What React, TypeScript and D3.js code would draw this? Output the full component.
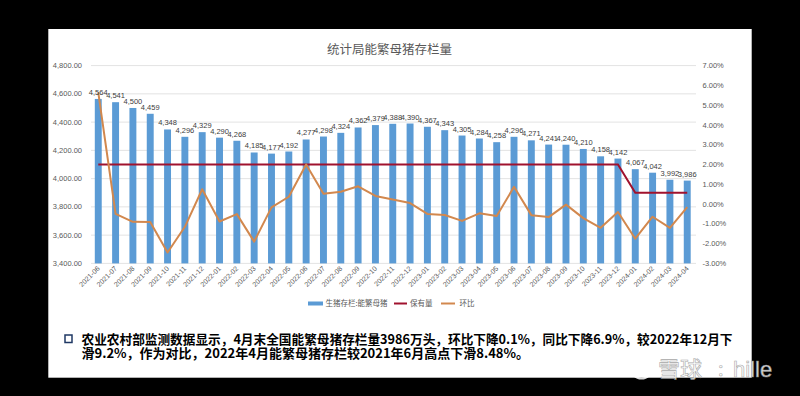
import React from "react";
import * as d3 from "d3";

const categories = [
  "2021-06","2021-07","2021-08","2021-09","2021-10","2021-11","2021-12",
  "2022-01","2022-02","2022-03","2022-04","2022-05","2022-06","2022-07","2022-08","2022-09","2022-10","2022-11","2022-12",
  "2023-01","2023-02","2023-03","2023-04","2023-05","2023-06","2023-07","2023-08","2023-09","2023-10","2023-11","2023-12",
  "2024-01","2024-02","2024-03","2024-04",
];
const inventory = [
  4564,4541,4500,4459,4348,4296,4329,
  4290,4268,4185,4177,4192,4277,4298,4324,4362,4379,4388,4390,
  4367,4343,4305,4284,4258,4296,4271,4241,4240,4210,4158,4142,
  4067,4042,3992,3986,
];
const holding = [
  4100,4100,4100,4100,4100,4100,4100,
  4100,4100,4100,4100,4100,4100,4100,4100,4100,4100,4100,4100,
  4100,4100,4100,4100,4100,4100,4100,4100,4100,4100,4100,4100,
  3900,3900,3900,3900,
];
const momPct = [
  5.65,-0.5,-0.9,-0.91,-2.45,-1.15,0.75,
  -0.88,-0.51,-1.9,-0.17,0.37,2.0,0.52,0.62,0.9,0.41,0.23,0.05,
  -0.5,-0.55,-0.85,-0.47,-0.6,0.87,-0.56,-0.66,-0.03,-0.71,-1.2,-0.4,
  -1.75,-0.64,-1.2,-0.15,
];
const leftTicks = [3400,3600,3800,4000,4200,4400,4600,4800];
const rightTicks = [-3,-2,-1,0,1,2,3,4,5,6,7];
const title = "统计局能繁母猪存栏量";
const legendLabels = ["生猪存栏:能繁母猪", "保有量", "环比"];
const noteLine1 = "农业农村部监测数据显示，4月末全国能繁母猪存栏量3986万头，环比下降0.1%，同比下降6.9%，较2022年12月下";
const noteLine2 = "滑9.2%，作为对比，2022年4月能繁母猪存栏较2021年6月高点下滑8.48%。";

export default function App() {
  const x = d3.scaleBand<string>().domain(categories).range([89.6, 695.9]).paddingInner(0.6).paddingOuter(0.3);
  const xc = (c: string) => (x(c) as number) + x.bandwidth() / 2;
  const yL = d3.scaleLinear().domain([3400, 4800]).range([263.4, 65.6]);
  const yR = d3.scaleLinear().domain([-3, 7]).range([263.4, 65.6]);
  const fmtL = d3.format(",.2f");
  const fmtV = d3.format(",");
  const holdLine = d3.line<number>().x((_, i) => xc(categories[i])).y((d) => yL(d));
  const momLine = d3.line<number>().x((_, i) => xc(categories[i])).y((d) => yR(d));
  const font = "'Liberation Sans', Arial, sans-serif";
  const cjk = "'Noto Sans CJK SC', sans-serif";
  return (
    <div style={{ position: "fixed", left: 0, top: 0, width: 800, height: 396, background: "#000" }}>
      <svg width={800} height={396} style={{ display: "block" }}>
        <rect x={0} y={0} width={800} height={396} fill="#000" />
        <rect x={48.3} y={29} width={703.4} height={348.7} fill="#fff" />
        <text x={389.5} y={53.5} textAnchor="middle" fontSize={12.5} fill="#595959" fontFamily={cjk}>{title}</text>
        {leftTicks.map((t) => (
          <g key={t}>
            <line x1={91} x2={696} y1={yL(t)} y2={yL(t)} stroke="#e3e3e3" strokeWidth={1} />
            <text x={82} y={yL(t) + 2.6} textAnchor="end" fontSize={7.5} fill="#595959" fontFamily={font}>{fmtL(t)}</text>
          </g>
        ))}
        {rightTicks.map((t) => (
          <text key={t} x={702.5} y={yR(t) + 2.6} fontSize={7.5} fill="#595959" fontFamily={font}>{t.toFixed(2) + "%"}</text>
        ))}
        {categories.map((c, i) => (
          <rect key={c} x={x(c)} y={yL(inventory[i])} width={x.bandwidth()} height={yL(3400) - yL(inventory[i])} fill="#5b9bd5" />
        ))}
        <path d={holdLine(holding) || ""} fill="none" stroke="#a0122e" strokeWidth={2} />
        <path d={momLine(momPct) || ""} fill="none" stroke="#d2884e" strokeWidth={2} strokeLinejoin="round" />
        {categories.map((c, i) => (
          <text key={"l" + c} x={xc(c)} y={yL(inventory[i]) - 4} textAnchor="middle" fontSize={7.5} fill="#404040" fontFamily={font}>{fmtV(inventory[i])}</text>
        ))}
        {categories.map((c) => (
          <text key={"x" + c} transform={`translate(${xc(c) + 2},${269}) rotate(-45)`} textAnchor="end" fontSize={7} fill="#595959" fontFamily={font}>{c}</text>
        ))}
        <g fontFamily={cjk} fontSize={7.5} fill="#595959">
          <rect x={308} y={301.5} width={15} height={4} fill="#5b9bd5" />
          <text x={325.5} y={306}>{legendLabels[0]}</text>
          <line x1={394} x2={407} y1={303.5} y2={303.5} stroke="#a0122e" strokeWidth={2} />
          <text x={410} y={306}>{legendLabels[1]}</text>
          <line x1={441} x2={455} y1={303.5} y2={303.5} stroke="#d2884e" strokeWidth={2} />
          <text x={459.5} y={306}>{legendLabels[2]}</text>
        </g>
        <rect x={65} y={335} width={7} height={7.5} fill="none" stroke="#1f3864" strokeWidth={1.5} />
        <text x={81.5} y={344} fontSize={13} fontWeight="bold" fill="#000" fontFamily={cjk} textLength={651} lengthAdjust="spacingAndGlyphs">{noteLine1}</text>
        <text x={81.5} y={357.5} fontSize={13} fontWeight="bold" fill="#000" fontFamily={cjk}>{noteLine2}</text>
        <g opacity={0.85}>
          <circle cx={641.5} cy={368} r={10.5} fill="none" stroke="#fff" strokeWidth={2.2} />
          <path d="M636,362 L647,374 M647,362 L636,374" stroke="#fff" strokeWidth={2} fill="none" />
          <text x={658} y={377} fontSize={22} fill="#fff" stroke="#999" strokeWidth={0.6} fontFamily={cjk}>雪球</text>
          <text x={718} y={376} fontSize={20} fill="#fff" stroke="#999" strokeWidth={0.6} fontFamily={cjk}>:</text>
          <text x={733} y={377} fontSize={22} fill="#fff" stroke="#999" strokeWidth={0.6} fontFamily={font}>hille</text>
        </g>
      </svg>
    </div>
  );
}
